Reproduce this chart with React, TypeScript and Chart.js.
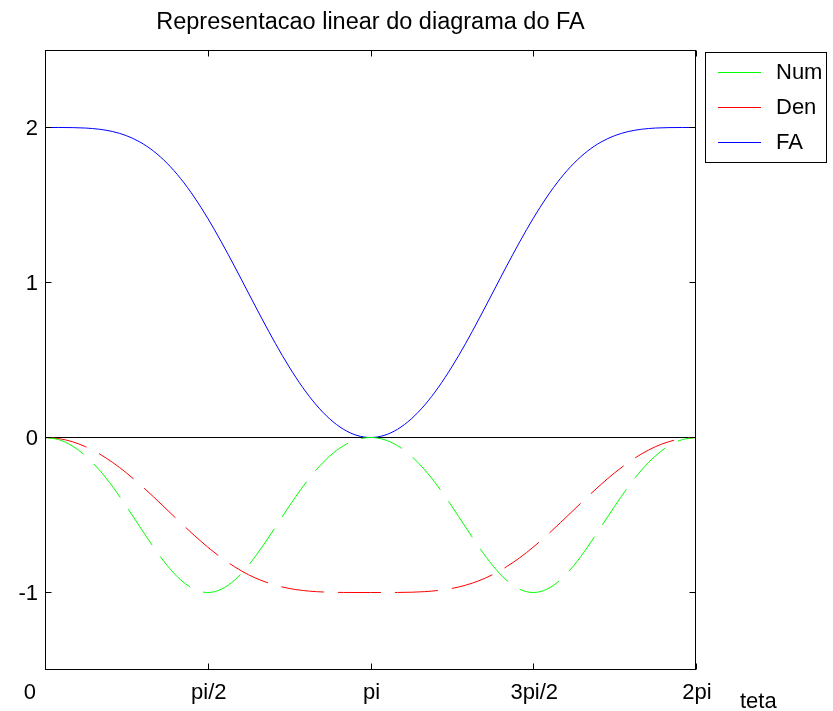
import React, { useEffect, useRef } from "react";
import { Chart, registerables } from "chart.js";

Chart.register(...registerables);

// theta in degrees (0 .. 2pi)
const thetaDeg = [
  0, 7.5, 15, 22.5, 30, 37.5, 45, 52.5, 60, 67.5, 75, 82.5, 90, 97.5, 105, 112.5, 120,
  127.5, 135, 142.5, 150, 157.5, 165, 172.5, 180, 187.5, 195, 202.5, 210, 217.5, 225,
  232.5, 240, 247.5, 255, 262.5, 270, 277.5, 285, 292.5, 300, 307.5, 315, 322.5, 330,
  337.5, 345, 352.5, 360,
];

const numValues = [
  0, -0.0134, -0.0535, -0.1193, -0.2089, -0.3189, -0.444, -0.5767, -0.7071, -0.8249,
  -0.9183, -0.979, -1, -0.979, -0.9183, -0.8249, -0.7071, -0.5767, -0.444, -0.3189,
  -0.2089, -0.1193, -0.0535, -0.0134, 0, -0.0134, -0.0535, -0.1193, -0.2089, -0.3189,
  -0.444, -0.5767, -0.7071, -0.8249, -0.9183, -0.979, -1, -0.979, -0.9183, -0.8249,
  -0.7071, -0.5767, -0.444, -0.3189, -0.2089, -0.1193, -0.0535, -0.0134, 0,
];

const denValues = [
  0, -0.0067, -0.0268, -0.0597, -0.105, -0.1616, -0.228, -0.3025, -0.3827, -0.4661,
  -0.5498, -0.631, -0.7071, -0.776, -0.8352, -0.8852, -0.9239, -0.9531, -0.9739, -0.9869,
  -0.9945, -0.9982, -0.9996, -1.0, -1, -1.0, -0.9996, -0.9982, -0.9945, -0.9869, -0.9739,
  -0.9531, -0.9239, -0.8852, -0.8352, -0.776, -0.7071, -0.631, -0.5498, -0.4661, -0.3827,
  -0.3025, -0.228, -0.1616, -0.105, -0.0597, -0.0268, -0.0067, 0,
];

const faValues = [
  2, 2.0, 1.9993, 1.9964, 1.9889, 1.9737, 1.9473, 1.9063, 1.8478, 1.7695, 1.6706, 1.5514,
  1.4142, 1.262, 1.0998, 0.9322, 0.7654, 0.6048, 0.4559, 0.3231, 0.21, 0.1195, 0.0535,
  0.0135, 0, 0.0135, 0.0535, 0.1195, 0.21, 0.3231, 0.4559, 0.6048, 0.7654, 0.9322, 1.0998,
  1.262, 1.4142, 1.5514, 1.6706, 1.7695, 1.8478, 1.9063, 1.9473, 1.9737, 1.9889, 1.9964,
  1.9993, 2.0, 2,
];

const seriesLabels = ["Num", "Den", "FA"];
const xTickValues = [0, 90, 180, 270, 360];
const xTickLabels = ["0", "pi/2", "pi", "3pi/2", "2pi"];
const yTickValues = [-1, 0, 1, 2];
const yTickLabels = ["-1", "0", "1", "2"];
const titleText = "Representacao linear do diagrama do FA";
const xAxisLabel = "teta";

const FONT = '"Liberation Sans", Arial, Helvetica, sans-serif';

const decorPlugin = {
  id: "decor",
  beforeDatasetsDraw(chart: any) {
    const { ctx, chartArea: a, scales } = chart;
    const y0 = Math.round(scales.y.getPixelForValue(0)) - 0.5;
    ctx.save();
    ctx.strokeStyle = "#000";
    ctx.lineWidth = 1;
    ctx.beginPath();
    ctx.moveTo(a.left, y0);
    ctx.lineTo(a.right, y0);
    ctx.stroke();
    ctx.restore();
  },
  afterDatasetsDraw(chart: any) {
    const { ctx, chartArea: a, scales } = chart;
    ctx.save();
    ctx.strokeStyle = "#000";
    ctx.lineWidth = 1;
    const L = a.left + 0.5;
    const R = a.right - 0.5;
    const T = a.top + 0.5;
    const B = a.bottom - 0.5;
    ctx.strokeRect(L, T, R - L, B - T);

    // ticks (inward)
    const tl = 6;
    ctx.beginPath();
    xTickValues.forEach((v) => {
      const px = Math.round(scales.x.getPixelForValue(v)) + 0.5;
      ctx.moveTo(px, B);
      ctx.lineTo(px, B - tl);
      ctx.moveTo(px, T);
      ctx.lineTo(px, T + tl);
    });
    yTickValues.forEach((v) => {
      const py = Math.round(scales.y.getPixelForValue(v)) - 0.5;
      ctx.moveTo(L, py);
      ctx.lineTo(L + tl, py);
      ctx.moveTo(R, py);
      ctx.lineTo(R - tl, py);
    });
    ctx.stroke();

    ctx.fillStyle = "#000";
    ctx.font = `22px ${FONT}`;
    // x tick labels
    ctx.textBaseline = "alphabetic";
    xTickValues.forEach((v, i) => {
      const px = scales.x.getPixelForValue(v);
      if (i === 0) {
        ctx.textAlign = "right";
        ctx.fillText(xTickLabels[i], a.left - 9, 699);
      } else {
        ctx.textAlign = "center";
        ctx.fillText(xTickLabels[i], px + 1, 699);
      }
    });
    // y tick labels
    ctx.textAlign = "right";
    ctx.textBaseline = "middle";
    yTickValues.forEach((v, i) => {
      const py = scales.y.getPixelForValue(v);
      ctx.fillText(yTickLabels[i], a.left - 7, py + 1);
    });
    // x axis label
    ctx.textAlign = "left";
    ctx.textBaseline = "alphabetic";
    ctx.fillText(xAxisLabel, 740, 708);

    // title
    ctx.font = `23.5px ${FONT}`;
    ctx.textAlign = "center";
    ctx.fillText(titleText, (a.left + a.right) / 2, 29);

    // legend
    const bx = 705.5, by = 52.5, bw = 121, bh = 110;
    ctx.fillStyle = "#fff";
    ctx.fillRect(bx, by, bw, bh);
    ctx.strokeStyle = "#000";
    ctx.strokeRect(bx, by, bw, bh);
    ctx.font = `22px ${FONT}`;
    ctx.textAlign = "left";
    ctx.textBaseline = "middle";
    chart.data.datasets.forEach((ds: any, i: number) => {
      const yy = 72 + i * 35;
      ctx.strokeStyle = ds.borderColor;
      ctx.setLineDash([]);
      ctx.beginPath();
      ctx.moveTo(718, yy + 0.5);
      ctx.lineTo(761, yy + 0.5);
      ctx.stroke();
      ctx.fillStyle = "#000";
      ctx.fillText(ds.label, 776, yy + 1);
    });
    ctx.restore();
  },
};

export default function App() {
  const canvasRef = useRef<HTMLCanvasElement | null>(null);

  useEffect(() => {
    if (!canvasRef.current) return;
    const mk = (vals: number[]) => thetaDeg.map((t, i) => ({ x: t, y: vals[i] }));
    const chart = new Chart(canvasRef.current, {
      type: "line",
      data: {
        datasets: [
          {
            label: seriesLabels[0],
            data: mk(numValues),
            borderColor: "#00ff00",
            borderWidth: 1,
            borderDash: [43, 14],
            pointRadius: 0,
            fill: false,
            cubicInterpolationMode: "monotone",
          },
          {
            label: seriesLabels[1],
            data: mk(denValues),
            borderColor: "#ff0000",
            borderWidth: 1,
            borderDash: [43, 14],
            pointRadius: 0,
            fill: false,
            cubicInterpolationMode: "monotone",
          },
          {
            label: seriesLabels[2],
            data: mk(faValues),
            borderColor: "#0000ff",
            borderWidth: 1,
            pointRadius: 0,
            fill: false,
            cubicInterpolationMode: "monotone",
          },
        ],
      },
      options: {
        responsive: false,
        animation: false,
        devicePixelRatio: 1,
        layout: { padding: { left: 45, right: 137, top: 50, bottom: 41 } },
        scales: {
          x: { type: "linear", min: 0, max: 360, display: false },
          y: { type: "linear", min: -1.5, max: 2.5, display: false },
        },
        plugins: {
          legend: { display: false },
          title: { display: false },
          tooltip: { enabled: false },
        },
      },
      plugins: [decorPlugin],
    });
    return () => chart.destroy();
  }, []);

  return (
    <div style={{ position: "absolute", left: 0, top: 0, width: 833, height: 711, background: "#fff" }}>
      <canvas ref={canvasRef} width={833} height={711} style={{ display: "block" }} />
    </div>
  );
}
